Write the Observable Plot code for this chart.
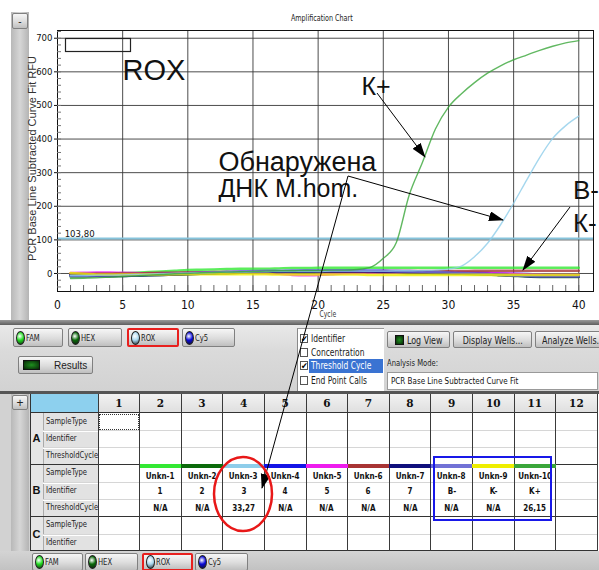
<!DOCTYPE html>
<html><head><meta charset="utf-8">
<script src="https://cdn.jsdelivr.net/npm/d3@7"></script>
<script src="https://cdn.jsdelivr.net/npm/@observablehq/plot@0.6"></script>
<style>
body{margin:0;background:#fff;}
#root{position:relative;width:599px;height:570px;overflow:hidden;font-family:"Liberation Sans",Arial,sans-serif;background:#fff;}
.a{position:absolute;box-sizing:border-box;}
.nar{font-family:"Liberation Sans Narrow","Arial Narrow","DejaVu Sans Condensed","Liberation Sans",sans-serif;font-stretch:condensed;}
.sx{display:inline-block;transform:scaleX(.84);transform-origin:center;white-space:nowrap;}
.sxl{display:inline-block;transform:scaleX(.84);transform-origin:left center;white-space:nowrap;}
.btn{background:linear-gradient(#f6f6f6,#dcdcdc 55%,#bfbfbf);border:1px solid #808080;border-radius:2px;color:#222;display:flex;align-items:center;white-space:nowrap;overflow:hidden;}
.led{width:7px;height:12px;border-radius:50%;border:1px solid #222;margin:0 1px 0 2px;flex:none;}
.metal{background:linear-gradient(#e9e9e9,#dadada 40%,#d2d2d2);}
.cellt{display:flex;align-items:center;justify-content:center;font-weight:bold;font-size:9.5px;color:#111;}
</style></head><body><div id="root"></div>
<script>
// ---------- data ----------
const cycles = d3.range(1, 41);
const wells = ["Unkn-1","Unkn-2","Unkn-3","Unkn-4","Unkn-5","Unkn-6","Unkn-7","Unkn-8","Unkn-9","Unkn-10"];
const identifiers = ["1","2","3","4","5","6","7","B-","K-","K+"];
const thresholdCycles = ["N/A","N/A","33,27","N/A","N/A","N/A","N/A","N/A","N/A","26,15"];
const wellColumns = [2,3,4,5,6,7,8,9,10,11];
const plateColumns = d3.range(1, 13);
const plateRows = ["A","B","C"];
const rowFields = [["SampleType","Identifier","ThresholdCycle"],["SampleType","Identifier","ThresholdCycle"],["SampleType","Identifier"]];
const channels = ["FAM","HEX","ROX","Cy5"];
const channelColors = ["#22dd22","#0a6a0a","#a9d8f0","#0a0ad8"];
const wellColors = ["#33e833","#0b6b0b","#8ecdea","#1414e6","#ee1cee","#a83434","#10107c","#7272d6","#eeee00","#3aa63a"];
const rfu1 = [-2,-1,0,0,1,2,4,6,8,10,11,12,13,14,14,14,15,16,16,17,17,17,17,17,17,17,17,17,17,17,17,17,17,17,17,17,17,17,17,17];
const rfu2 = [-9,-9,-8,-8,-7,-6,-5,-4,-3,-2,-1,0,1,2,2,3,3,3,3,3,3,3,3,2,2,2,1,1,0,0,-1,-2,-3,-5,-7,-9,-10,-10,-10,-10];
const rfu3 = [-6,-6,-5,-5,-4,-3,-2,-1,0,1,2,3,4,4,5,5,6,6,6,6,7,7,7,7,7,8,8,9,10,13,22,50,90,145,209,278,345,402,440,468];
const rfu4 = [-5,-5,-5,-4,-4,-3,-2,-1,0,1,2,3,4,5,5,6,6,7,8,8,9,9,9,8,8,7,7,6,5,4,3,2,1,0,-1,-2,-3,-4,-4,-4];
const rfu5 = [1,2,3,3,2,1,0,0,1,1,2,2,3,3,2,1,-1,-4,-5,-4,-2,0,1,2,3,3,4,4,4,3,3,2,1,0,-1,-3,-4,-5,-5,-5];
const rfu6 = [-2,-2,-1,-1,0,0,1,2,2,3,3,4,4,4,5,5,5,5,5,6,6,6,6,6,7,7,7,7,7,7,7,8,8,8,8,8,8,8,8,8];
const rfu7 = [-4,-5,-6,-7,-7,-6,-5,-4,-3,-2,-1,0,1,2,3,4,4,5,5,6,6,6,6,6,5,5,4,3,2,1,0,-1,-2,-4,-6,-8,-9,-9,-9,-9];
const rfu8 = [-7,-7,-6,-6,-5,-4,-3,-2,-1,0,2,3,4,6,7,8,8,9,9,9,9,9,9,8,8,7,6,5,4,3,1,0,-2,-4,-6,-7,-8,-8,-8,-8];
const rfu9 = [1,-1,-3,-3,-3,-3,-3,-3,-2,-2,-2,-2,-2,-2,-2,-2,-3,-3,-3,-3,-3,-3,-3,-4,-4,-4,-4,-4,-4,-4,-4,-4,-4,-4,-4,-4,-4,-4,-4,-4];
const rfu10 = [-15,-14,-13,-11,-9,-7,-5,-3,-1,0,2,3,4,5,6,7,8,8,9,9,10,10,12,18,45,92,235,330,430,495,535,568,596,618,636,650,664,676,686,693];
const threshold = 103.8;
const thresholdLabel = "103,80";
const xTicks = d3.range(0, 41, 5);
const yTicks = d3.range(0, 701, 100);
const annotations = [
  {x: 4.99, y: 603, text: "ROX", size: 29},
  {x: 23.33, y: 555, text: "К+", size: 25},
  {x: 12.35, y: 332, text: "Обнаружена", size: 27},
  {x: 12.35, y: 252, text: "ДНК M.hom.", size: 25},
  {x: 39.55, y: 246, text: "В-", size: 26},
  {x: 39.55, y: 148, text: "К-", size: 26}
];

// ---------- chart ----------
const series = [rfu1,rfu2,rfu3,rfu4,rfu5,rfu6,rfu7,rfu8,rfu9,rfu10];
const drawOrder = [0,1,3,4,5,6,7,8,2,9];
const rows = drawOrder.flatMap(i => cycles.map((c, j) => ({well: wells[i], cycle: c, rfu: series[i][j], amplified: thresholdCycles[i] !== "N/A"})));
const NARROW = '"Liberation Sans Narrow","Arial Narrow","DejaVu Sans Condensed","Liberation Sans",sans-serif';

const chart = Plot.plot({
  width: 599, height: 320,
  marginLeft: 57, marginRight: 6, marginTop: 30, marginBottom: 29,
  x: {domain: [0, 41.13]},
  y: {domain: [-53.6, 723]},
  color: {domain: wells, range: wellColors},
  style: {background: "transparent", fontFamily: NARROW, color: "#111"},
  marks: [
    Plot.gridY(yTicks, {stroke: "#3a3a3a", strokeOpacity: 0.9}),
    Plot.gridX(xTicks.filter(d => d > 0), {stroke: "#3a3a3a", strokeOpacity: 0.9}),
    Plot.ruleY([threshold], {stroke: "#86c4dc", strokeWidth: 2}),
    Plot.text([thresholdLabel], {x: 0.55, y: threshold, dy: -5, text: d => d, textAnchor: "start", fontSize: 9.5, fontFamily: NARROW}),
    Plot.line(rows, {filter: d => !d.amplified, x: "cycle", y: "rfu", z: "well", stroke: "well", strokeWidth: 2.6, strokeOpacity: 0.8, curve: "monotone-x"}),
    Plot.line(rows, {filter: d => d.amplified, x: "cycle", y: "rfu", z: "well", stroke: "well", strokeWidth: 1.4, strokeOpacity: 0.8, curve: "monotone-x"}),
    Plot.frame({stroke: "#111"}),
    Plot.axisX({ticks: xTicks, tickSize: 0, tickPadding: 9, fontSize: 12, label: null}),
    Plot.axisX({ticks: cycles, tickSize: -6, tickFormat: () => "", label: null, stroke: "#666"}),
    Plot.axisY({ticks: yTicks, tickSize: 3, tickPadding: 2, fontSize: 9.5, label: null}),
    Plot.axisY({ticks: d3.range(-40, 721, 20), tickSize: -4, tickFormat: () => "", label: null, stroke: "#777"}),
    Plot.text(annotations, {x: "x", y: "y", text: "text", fontSize: d => d.size, textAnchor: "start", fontFamily: '"Liberation Sans",Arial,sans-serif', fill: "#111"})
  ]
});

// ---------- page ----------
const root = document.getElementById("root");
function el(cls, css, html) {
  const d = document.createElement("div");
  d.className = "a " + (cls || "");
  d.style.cssText = css;
  if (html != null) d.innerHTML = html;
  root.appendChild(d);
  return d;
}
const sx = t => `<span class="sx">${t}</span>`;
const sxl = t => `<span class="sxl">${t}</span>`;
chart.style.position = "absolute"; chart.style.left = "0px"; chart.style.top = "0px";
root.appendChild(chart);

// left grip strip + minus button
el("", "left:11px;top:12px;width:18px;height:308px;background:linear-gradient(90deg,#b8b8b8,#d6d6d6 50%,#b4b4b4);");
el("btn", "left:12px;top:13px;width:16px;height:16px;justify-content:center;font-size:10px;", "-");
// title, axis labels
el("nar", "left:272px;top:13px;width:100px;text-align:center;font-size:8.5px;color:#222;", sx("Amplification Chart"));
el("nar", "left:310px;top:310px;width:36px;text-align:center;font-size:8px;color:#333;", sx("Cycle"));
el("", "left:-100px;top:152px;width:264px;height:13px;line-height:13px;text-align:center;font-size:11px;color:#333;transform:rotate(-90deg);", "PCR Base Line Subtracted Curve Fit RFU");

// dark separator and panel
el("", "left:0;top:320px;width:599px;height:5px;background:linear-gradient(#9a9a9a,#5e5e5e);");
el("metal", "left:0;top:325px;width:599px;height:67px;");
el("", "left:0;top:391px;width:599px;height:3px;background:#555;");
channels.forEach((ch, i) => {
  const lefts = [13, 68, 127, 182], widths = [50, 54, 52, 53];
  el("btn nar", `left:${lefts[i]}px;top:328px;width:${widths[i]}px;height:19px;font-size:9px;` + (ch === "ROX" ? "border:2px solid #e8201e;" : ""),
    `<span class="led" style="background:radial-gradient(circle at 40% 35%,#fff 0,${channelColors[i]} 45%,#111 110%)"></span>${sxl(ch)}`);
});
el("btn", "left:18px;top:356px;width:75px;height:18px;font-size:10px;",
  `<span style="width:15px;height:8px;background:radial-gradient(#1f8f1f,#062806);border:1px solid #111;margin:0 14px 0 4px"></span>Results`);
// checkbox list
const listItems = ["Identifier","Concentration","Threshold Cycle","End Point Calls"];
const listChecked = [true,false,true,false];
el("", "left:297px;top:328px;width:87px;height:63px;background:#fff;border-left:1px solid #888;border-top:1px solid #999;");
listItems.forEach((t, i) => {
  const top = [332, 346, 359, 374][i];
  el("nar", `left:300px;top:${top + 2}px;width:8px;height:9px;border:1px solid #555;background:#fff;font-size:9px;line-height:8px;text-align:center;`, listChecked[i] ? "✔" : "");
  el("nar", `left:309px;top:${top}px;width:74px;height:14px;line-height:14px;font-size:10px;padding-left:2px;` + (i === 2 ? "background:#3a73d2;color:#fff;" : "color:#222;"), sxl(t));
});
el("btn nar", "left:387px;top:331px;width:63px;height:17px;font-size:10.5px;",
  `<span style="width:11px;height:8px;background:radial-gradient(#1f8f1f,#062806);border:1px solid #111;margin:0 3px 0 7px"></span>${sxl("Log View")}`);
el("btn nar", "left:453px;top:331px;width:79px;height:17px;font-size:10.5px;justify-content:center;", sx("Display Wells..."));
el("btn nar", "left:535px;top:331px;width:70px;height:17px;font-size:10.5px;padding-left:6px;", sxl("Analyze Wells..."));
el("nar", "left:387px;top:358px;font-size:9px;color:#222;", sxl("Analysis Mode:"));
el("nar", "left:387px;top:372px;width:211px;height:18px;background:#fff;border:1px solid #999;font-size:9.5px;line-height:16px;padding-left:3px;color:#111;", sxl("PCR Base Line Subtracted Curve Fit"));

// plate table
const colX0 = 98, colW = 41.6, headTop = 394, headH = 18.5, rowH = 17.3;
const bodyTop = headTop + headH;
const nSub = rowFields.reduce((s, r) => s + r.length, 0);
const bodyBottom = bodyTop + nSub * rowH;
el("", `left:0;top:394px;width:30px;height:${bodyBottom - 394}px;background:#d2d2d2;`);
el("", `left:11px;top:394px;width:18px;height:${bodyBottom - 394}px;background:linear-gradient(90deg,#b8b8b8,#d6d6d6 50%,#b4b4b4);`);
el("btn", "left:12px;top:395px;width:16px;height:15px;justify-content:center;font-size:12px;", "+");
el("", `left:30px;top:${headTop}px;width:68px;height:${headH}px;background:#8dd0ee;`);
plateColumns.forEach((c, k) => {
  el("cellt", `left:${colX0 + k * colW}px;top:${headTop}px;width:${colW}px;height:${headH}px;background:linear-gradient(#f2f2f2,#dedede);font-size:10.5px;font-family:'DejaVu Serif',serif;`, String(c));
});
el("", `left:${colX0}px;top:${bodyTop}px;width:${12 * colW}px;height:${bodyBottom - bodyTop}px;background:#fff;`);
el("", `left:30px;top:${bodyTop}px;width:13px;height:${bodyBottom - bodyTop}px;background:#e6e6e6;`);
el("", `left:43px;top:${bodyTop}px;width:55px;height:${bodyBottom - bodyTop}px;background:#e2e2e2;border-left:1px solid #aaa;`);
let sub = 0;
const groupTops = [];
rowFields.forEach((fields, g) => {
  groupTops.push(bodyTop + sub * rowH);
  el("", `left:30px;top:${bodyTop + sub * rowH}px;width:13px;height:${fields.length * rowH}px;display:flex;align-items:center;justify-content:center;font-weight:bold;font-size:11px;color:#111;`, plateRows[g]);
  fields.forEach((f, j) => {
    const top = bodyTop + (sub + j) * rowH;
    el("nar", `left:44px;top:${top}px;width:54px;height:${rowH}px;line-height:${rowH}px;font-size:9px;padding-left:2px;color:#222;`, sxl(f));
    if (j > 0) {
      el("", `left:43px;top:${top}px;width:554px;height:1px;background:#d6d6d6;`);
      el("", `left:43px;top:${top + 1}px;width:55px;height:1px;background:#fff;`);
    }
  });
  sub += fields.length;
});
[bodyTop, groupTops[1], groupTops[2], bodyBottom].forEach(y => el("", `left:30px;top:${y - 0.5}px;width:567px;height:1px;background:#333;`));
el("", `left:30px;top:${headTop}px;width:1px;height:${bodyBottom - headTop}px;background:#333;`);
plateColumns.concat([13]).forEach((c, k) => el("", `left:${colX0 + k * colW - 0.5}px;top:${headTop}px;width:1px;height:${bodyBottom - headTop}px;background:#3a3a3a;`));
// column 1 focus box
el("", `left:${colX0 + 1}px;top:${bodyTop + 1}px;width:${colW - 2}px;height:${rowH - 1}px;border:1px dotted #333;`);
// row B content
const bTop = groupTops[1];
wells.forEach((w, i) => {
  const x = colX0 + (wellColumns[i] - 1) * colW;
  el("", `left:${x}px;top:${bTop}px;width:${colW}px;height:4px;background:${wellColors[i]};`);
  el("cellt nar", `left:${x}px;top:${bTop + 2}px;width:${colW}px;height:${rowH}px;`, sx(w));
  el("cellt nar", `left:${x}px;top:${bTop + rowH}px;width:${colW}px;height:${rowH}px;`, sx(identifiers[i]));
  el("cellt nar", `left:${x}px;top:${bTop + 2 * rowH}px;width:${colW}px;height:${rowH}px;`, sx(thresholdCycles[i]));
});
// bottom tabs
el("metal", `left:0;top:${bodyBottom + 0.5}px;width:599px;height:${570 - bodyBottom}px;background:linear-gradient(#d4d4d4,#c2c2c2);`);
channels.forEach((ch, i) => {
  const lefts = [32, 85, 142, 195], widths = [51, 53, 51, 53];
  el("btn nar", `left:${lefts[i]}px;top:553px;width:${widths[i]}px;height:18px;font-size:9px;` + (ch === "ROX" ? "border:2px solid #e8201e;" : ""),
    `<span class="led" style="background:radial-gradient(circle at 40% 35%,#fff 0,${channelColors[i]} 45%,#111 110%)"></span>${sxl(ch)}`);
});

// ---------- overlay annotations (arrows, circle, box) ----------
const ns = "http://www.w3.org/2000/svg";
const ov = document.createElementNS(ns, "svg");
ov.setAttribute("width", 599); ov.setAttribute("height", 570);
ov.style.cssText = "position:absolute;left:0;top:0;pointer-events:none;";
ov.innerHTML = `
<defs><marker id="ah" markerUnits="userSpaceOnUse" markerWidth="16" markerHeight="12" refX="14" refY="5" orient="auto">
<path d="M0,0L15,5L0,10Z" fill="#000"/></marker></defs>
<rect x="65.5" y="38.5" width="65" height="13" fill="none" stroke="#222" stroke-width="1.2"/>
<g stroke="#000" stroke-width="1" fill="none">
<line x1="377" y1="93" x2="425" y2="157" marker-end="url(#ah)"/>
<line x1="348" y1="176" x2="503" y2="220" marker-end="url(#ah)"/>
<line x1="348" y1="176" x2="262" y2="488" marker-end="url(#ah)"/>
<line x1="570" y1="207" x2="523" y2="270" marker-end="url(#ah)"/>
</g>
<ellipse cx="243" cy="494" rx="29" ry="37" fill="none" stroke="#e81818" stroke-width="2.5"/>
<rect x="434" y="457" width="117" height="63" fill="none" stroke="#1818e8" stroke-width="2"/>`;
root.appendChild(ov);
</script></body></html>
